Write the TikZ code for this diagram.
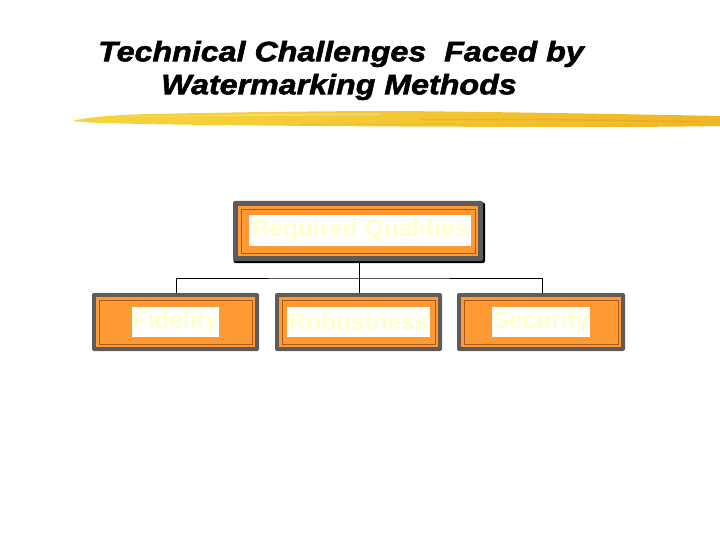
\documentclass[tikz,border=0pt]{standalone}
\usepackage{fontspec}
\setmainfont{Liberation Sans}
\newfontfamily\titlefont[FakeBold=2,FakeStretch=1.15]{Liberation Sans}
\begin{document}
\begin{tikzpicture}[x=1pt,y=-1pt,
  outerbox/.style={fill=boxgray,rounded corners=2pt,minimum width=#1,minimum height=58pt,inner sep=0pt},
  orangefill/.style={fill=boxorange},
  brownline/.style={draw=boxbrown,line width=0.8pt},
  labeltext/.style={fill=white,text=labelyellow,font=\bfseries\fontsize{24.5}{28}\selectfont,inner sep=1pt,minimum height=30pt},
  titletext/.style={font=\titlefont\bfseries\itshape\fontsize{28}{32}\selectfont,anchor=center},
  link/.style={draw=black,line width=0.9pt}]
\definecolor{boxgray}{HTML}{5E5B58}
\definecolor{boxorange}{HTML}{FF9933}
\definecolor{boxbrown}{HTML}{A85A1A}
\definecolor{labelyellow}{HTML}{FFFFCC}
\definecolor{brushA}{HTML}{F6D43C}
\definecolor{brushB}{HTML}{F0B524}
\useasboundingbox (0,0) rectangle (720,540);
% title
\node[titletext] (t1) at (341,54) {Technical Challenges\ \ Faced by};
\node[titletext] (t2) at (339,87) {Watermarking Methods};
% brush stroke
\shade[left color=brushA,right color=brushB,middle color=brushA!60!brushB]
  (72,121) .. controls (90,117) and (110,115) .. (150,114)
  .. controls (250,112) and (330,111) .. (400,111)
  .. controls (500,112) and (620,114) .. (720,116)
  -- (720,126) .. controls (640,127.5) and (520,127) .. (400,126.5)
  .. controls (300,126) and (180,125) .. (120,123.5)
  .. controls (100,123) and (85,122.5) .. (72,121) -- cycle;
\fill[brushA!55!white,opacity=0.6] (120,117) -- (260,114) -- (380,113.5) -- (380,115) -- (260,115.8) -- cycle;
\fill[brushB!80!black,opacity=0.25] (420,119) -- (560,119) -- (700,121) -- (700,122) -- (560,120.5) -- (420,120.3) -- cycle;
\fill[brushB!85!black,opacity=0.2] (300,123.5) -- (470,124) -- (470,125) -- (300,124.8) -- cycle;
% top box
\fill[black,rounded corners=2pt] (233.5,202.5) rectangle (485,263);
\fill[boxgray,rounded corners=2pt] (233,201) rectangle (483,261);
\fill[orangefill] (238,206) rectangle (478,256);
\draw[brownline] (241,209) rectangle (475,253);
\node[labeltext,minimum width=222pt] (top) at (360,230.5) {Required Qualities};
% bottom boxes
\node[outerbox=167pt] (b1) at (175.5,322) {};
\node[outerbox=167pt] (b2) at (358.5,322) {};
\node[outerbox=168pt] (b3) at (541,322) {};
\foreach \c/\w in {175.5/83.5,358.5/83.5,541/84}{
  \fill[orangefill] (\c-\w+4,297) rectangle (\c+\w-4,347);
  \draw[brownline] (\c-\w+7,300) rectangle (\c+\w-7,344);}
\node[labeltext,minimum width=87pt] (f) at (175.5,322) {Fidelity};
\node[labeltext,minimum width=142pt] (r) at (358.5,322) {Robustness};
\node[labeltext,minimum width=98pt] (s) at (541,322) {Security};
% connectors
\coordinate (j) at (359,278);
\draw[link] (359,263) -- (j);
\draw[link] (176,293) |- (j) -| (542,293);
\draw[link] (j) -- (359,293);
\end{tikzpicture}
\end{document}
